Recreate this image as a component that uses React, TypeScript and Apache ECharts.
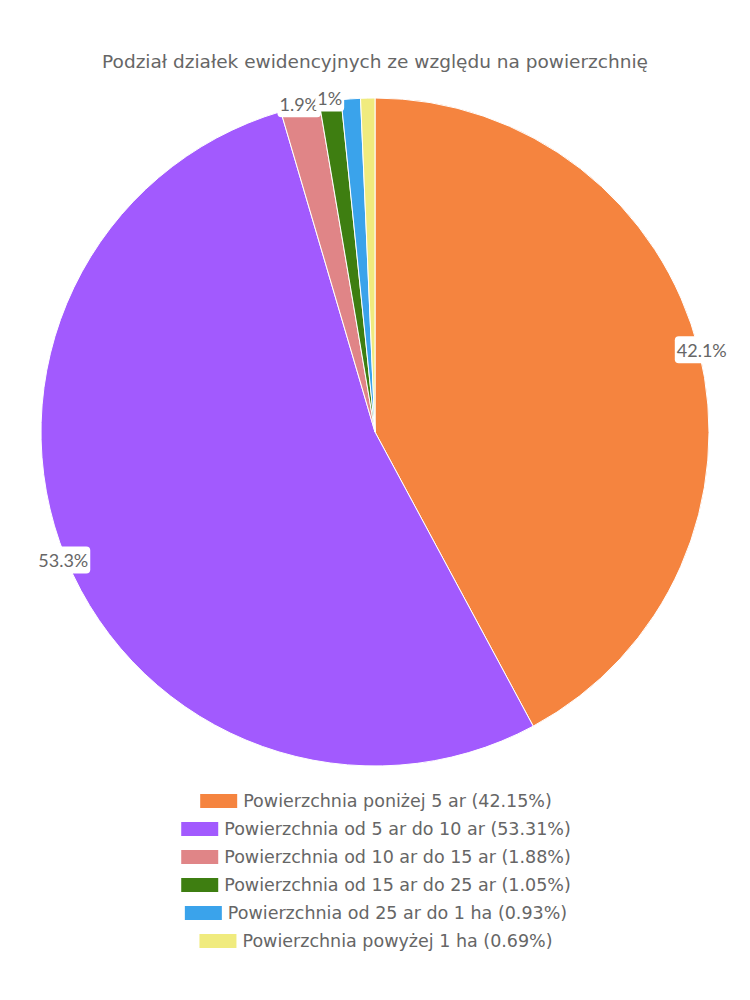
import React, { useEffect, useRef } from "react";
import * as echarts from "echarts";

const TITLE = "Podział działek ewidencyjnych ze względu na powierzchnię";
const categories = [
  "Powierzchnia poniżej 5 ar",
  "Powierzchnia od 5 ar do 10 ar",
  "Powierzchnia od 10 ar do 15 ar",
  "Powierzchnia od 15 ar do 25 ar",
  "Powierzchnia od 25 ar do 1 ha",
  "Powierzchnia powyżej 1 ha",
];
const values = [42.15, 53.31, 1.88, 1.05, 0.93, 0.69];
const sliceLabels = ["42.1%", "53.3%", "1.9%", "1%", "", ""];
const colors = ["#F5843F", "#A25AFE", "#E08587", "#3E7E11", "#3AA3EB", "#F0EB7E"];

const FONT = "'DejaVu Sans', sans-serif";
const LABEL_FONT = "Lato, 'Noto Sans', sans-serif";
const TEXT = "#666666";

export default function App() {
  const ref = useRef<HTMLDivElement>(null);
  useEffect(() => {
    document.body.style.margin = "0";
    if (!ref.current) return;
    const chart = echarts.init(ref.current, undefined, { renderer: "svg" });
    const names = categories.map((c, i) => `${c} (${values[i].toFixed(2)}%)`);
    const legends = names.map((n, i) => ({
      show: true,
      left: "center",
      top: 787 + i * 28,
      orient: "horizontal",
      selectedMode: false,
      itemWidth: 39,
      itemHeight: 16,
      itemGap: 10,
      icon: "rect",
      textStyle: { color: TEXT, fontSize: 17.5, fontFamily: FONT },
      data: [{ name: n, itemStyle: { color: colors[i], opacity: 1 } }],
    }));
    chart.setOption({
      animation: false,
      title: {
        text: TITLE,
        left: "center",
        top: 47,
        textStyle: { color: TEXT, fontSize: 18.5, fontWeight: "normal", fontFamily: FONT },
      },
      legend: legends,
      series: [
        {
          type: "pie",
          center: [375, 432],
          radius: [0, 334],
          startAngle: 90,
          clockwise: true,
          label: { show: false },
          labelLine: { show: false },
          itemStyle: { borderColor: "#ffffff", borderWidth: 1 },
          emphasis: { disabled: true },
          data: names.map((n, i) => ({ name: n, value: values[i], itemStyle: { color: colors[i] } })),
        },
        {
          type: "pie",
          center: [375, 432],
          radius: [332, 336],
          startAngle: 90,
          clockwise: true,
          silent: true,
          z: 5,
          avoidLabelOverlap: false,
          labelLayout: { hideOverlap: false },
          emphasis: { disabled: true },
          labelLine: { show: false },
          label: {
            show: true,
            position: "inside",
            color: TEXT,
            fontSize: 18,
            fontFamily: LABEL_FONT,
            backgroundColor: "#ffffff",
            borderRadius: 4,
            padding: [5, 2, 4, 2],
            formatter: (p: any) => sliceLabels[p.dataIndex],
          },
          data: names.map((n, i) => ({
            name: n,
            value: values[i],
            itemStyle: { color: "rgba(0,0,0,0)" },
            label: { show: sliceLabels[i] !== "" },
          })),
        },
      ],
    });
    return () => chart.dispose();
  }, []);
  return <div ref={ref} style={{ width: 750, height: 1000 }} />;
}
